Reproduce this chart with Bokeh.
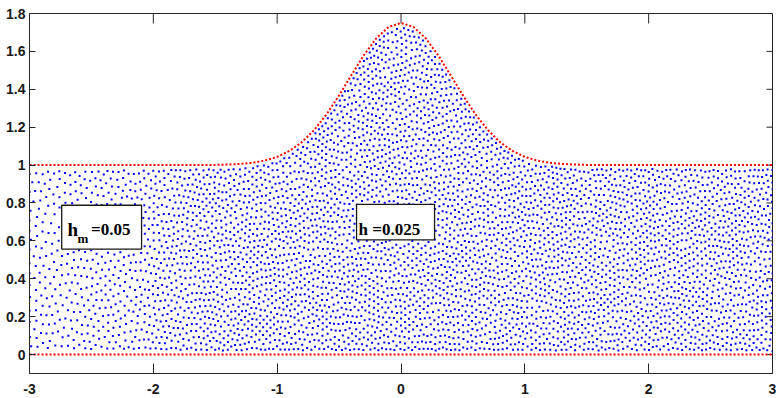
import numpy as np
from bokeh.plotting import figure
from bokeh.models import FixedTicker, Label
from bokeh.embed import file_html
from bokeh.resources import INLINE

# ---------------- data ----------------
# top boundary profile (bump)
top_x = [-3.0, -1.5, -1.4, -1.3, -1.2, -1.1, -1.0, -0.9, -0.8, -0.7, -0.6, -0.5, -0.4, -0.3, -0.2, -0.1,
         0.0, 0.1, 0.2, 0.3, 0.4, 0.5, 0.6, 0.7, 0.8, 0.9, 1.0, 1.1, 1.2, 1.3, 1.4, 1.5, 3.0]
top_y = [1.0, 1.001, 1.003, 1.006, 1.012, 1.024, 1.043, 1.075, 1.121, 1.186, 1.269, 1.368, 1.475, 1.580, 1.669, 1.729,
         1.750, 1.729, 1.669, 1.580, 1.475, 1.368, 1.269, 1.186, 1.121, 1.075, 1.043, 1.024, 1.012, 1.006, 1.003, 1.001, 1.0]
# bottom boundary
bot_x = [-3.0, 3.0]
bot_y = [0.0, 0.0]
# local node spacing of the mesh (estimated from dot density)
h_x = [-3.0, -2.5, -2.0, -1.5, -1.0, 3.0]
h_val = [0.054, 0.047, 0.041, 0.038, 0.036, 0.036]
boundary_spacing = 0.033
# tick labels
xticks = [-3, -2, -1, 0, 1, 2, 3]
xtick_labels = ["-3", "-2", "-1", "0", "1", "2", "3"]
yticks = [0, 0.2, 0.4, 0.6, 0.8, 1, 1.2, 1.4, 1.6, 1.8]
ytick_labels = ["0", "0.2", "0.4", "0.6", "0.8", "1", "1.2", "1.4", "1.6", "1.8"]
label_left = ("h", "m", "=0.05")
label_mid = "h =0.025"

X_LO, X_HI, Y_LO, Y_HI = -3.0, 3.0, -0.1, 1.8


# ---------------- mesh nodes ----------------
def top_of(x):
    return np.interp(x, top_x, top_y)


def hloc(x):
    return np.interp(x, h_x, h_val)


def boundary_nodes():
    xs = np.arange(X_LO, X_HI + 1e-9, boundary_spacing)
    bx = list(xs); by = [0.0] * len(xs)
    fx = np.linspace(X_LO, X_HI, 12001)
    fy = top_of(fx)
    arc = np.concatenate([[0], np.cumsum(np.hypot(np.diff(fx), np.diff(fy)))])
    s = np.arange(0, arc[-1] + 1e-9, boundary_spacing)
    bx += list(np.interp(s, arc, fx)); by += list(np.interp(s, arc, fy))
    return np.array(bx), np.array(by)


def scramble(n):
    k = np.arange(n, dtype=np.uint64)
    m32 = np.uint64(0xFFFFFFFF)
    k = (k * np.uint64(2654435761)) & m32
    k ^= k >> np.uint64(15)
    k = (k * np.uint64(2246822519)) & m32
    k ^= k >> np.uint64(13)
    k = (k * np.uint64(3266489917)) & m32
    k ^= k >> np.uint64(16)
    return np.argsort(k, kind="stable")


def initial_nodes():
    c = 0.007
    dy = c * 0.8660254
    rows = []
    for j in range(int(1.8 / dy) + 2):
        off = (j % 2) * c / 2
        xr = np.arange(X_LO + off, X_HI + 1e-9, c)
        rows.append(np.column_stack([xr, np.full_like(xr, j * dy)]))
    P = np.vstack(rows)
    X, Y = P[:, 0], P[:, 1]
    H = hloc(X)
    keep = (Y >= 0.45 * H) & (Y <= top_of(X) - 0.45 * H)
    X, Y, H = X[keep], Y[keep], H[keep]
    order = scramble(len(X))
    X, Y, H = X[order], Y[order], H[order]
    D = 0.78 * H
    g = 0.05
    grid = {}
    ox, oy = [], []
    for x, y, d in zip(X.tolist(), Y.tolist(), D.tolist()):
        i = int((x + 3.0) / g); k = int(y / g)
        d2 = d * d
        ok = True
        for a in (i - 1, i, i + 1):
            for b in (k - 1, k, k + 1):
                for (qx, qy) in grid.get((a, b), ()):
                    if (qx - x) ** 2 + (qy - y) ** 2 < d2:
                        ok = False
                        break
                if not ok:
                    break
            if not ok:
                break
        if ok:
            grid.setdefault((i, k), []).append((x, y))
            ox.append(x); oy.append(y)
    return np.array(ox), np.array(oy)


def relax(X, Y, fixed, iters=10, dt=0.1, fac=1.12):
    rmax = fac * max(h_val)
    n = len(X)
    for _ in range(iters):
        H = hloc(X) * np.where(fixed, 0.8, 1.0)
        order = np.argsort(X, kind="stable")
        Xs, Ys, Hs = X[order], Y[order], H[order]
        FXs = np.zeros(n); FYs = np.zeros(n)
        for s in range(0, n, 256):
            e = min(n, s + 256)
            lo = np.searchsorted(Xs, Xs[s] - rmax, "left")
            hi = np.searchsorted(Xs, Xs[e - 1] + rmax, "right")
            dx = Xs[s:e, None] - Xs[None, lo:hi]
            dyy = Ys[s:e, None] - Ys[None, lo:hi]
            d = np.sqrt(dx * dx + dyy * dyy)
            r0 = 0.5 * fac * (Hs[s:e, None] + Hs[None, lo:hi])
            m = (d < r0) & (d > 1e-12)
            w = np.where(m, (r0 - d) / np.where(m, d, 1.0), 0.0)
            FXs[s:e] = (w * dx).sum(1)
            FYs[s:e] = (w * dyy).sum(1)
        FX = np.empty(n); FY = np.empty(n)
        FX[order] = FXs; FY[order] = FYs
        hh0 = hloc(X)
        mx = dt * FX; my = dt * FY
        lim = 0.25 * hh0
        mag = np.hypot(mx, my)
        sc = np.where(mag > lim, lim / np.maximum(mag, 1e-12), 1.0)
        mv = ~fixed
        X = X.copy(); Y = Y.copy()
        X[mv] += (mx * sc)[mv]
        Y[mv] += (my * sc)[mv]
        X[mv] = np.clip(X[mv], X_LO, X_HI)
        hh = hloc(X[mv])
        Y[mv] = np.clip(Y[mv], 0.25 * hh, top_of(X[mv]) - 0.25 * hh)
    return X, Y


bx, by = boundary_nodes()
ix, iy = initial_nodes()
allx = np.concatenate([bx, ix]); ally = np.concatenate([by, iy])
fixed = np.concatenate([np.ones(len(bx), bool), np.zeros(len(ix), bool)])
allx, ally = relax(allx, ally, fixed)
node_x = allx[~fixed].tolist()
node_y = ally[~fixed].tolist()

# ---------------- figure ----------------
p = figure(width=776, height=398, x_range=(X_LO, X_HI), y_range=(Y_LO, Y_HI),
           output_backend="svg", toolbar_location=None,
           min_border_left=29, min_border_right=4, min_border_top=13, min_border_bottom=25,
           background_fill_color="white", border_fill_color="white")
p.grid.visible = False
axcol = "#262626"
p.outline_line_color = axcol
tick_font = "Liberation Sans"

xa = p.xaxis[0]
xa.ticker = FixedTicker(ticks=xticks)
xa.major_label_overrides = {t: s for t, s in zip(xticks, xtick_labels)}
ya = p.yaxis[0]
ya.ticker = FixedTicker(ticks=yticks)
ya.major_label_overrides = {t: s for t, s in zip(yticks, ytick_labels)}

XT_IN, YT_IN = 10, 6
for ax, tin, st in ((xa, XT_IN, 10), (ya, YT_IN, 4)):
    ax.major_tick_in = tin
    ax.major_tick_out = 0
    ax.minor_tick_in = 0
    ax.minor_tick_out = 0
    ax.major_label_standoff = st
    ax.axis_line_color = axcol
    ax.major_tick_line_color = axcol
    ax.major_label_text_font = tick_font
    ax.major_label_text_font_style = "bold"
    ax.major_label_text_font_size = "14px"
    ax.major_label_text_color = "#1a1a1a"

# box ticks on the top and right edges (mirrors of the axis ticks)
frame_w, frame_h = 743.0, 360.0
tick_dy = XT_IN * (Y_HI - Y_LO) / frame_h
tick_dx = YT_IN * (X_HI - X_LO) / frame_w
p.segment(x0=xticks, y0=[Y_HI] * len(xticks), x1=xticks, y1=[Y_HI - tick_dy] * len(xticks),
          line_color=axcol, line_width=1)
p.segment(x0=[X_HI] * len(yticks), y0=yticks, x1=[X_HI - tick_dx] * len(yticks), y1=yticks,
          line_color=axcol, line_width=1)

# mesh nodes
p.scatter(node_x, node_y, marker="square", size=2, fill_color="#0000ff", line_color=None)

# boundary nodes (dotted red)
p.line(top_x, top_y, line_color="#ff0000", line_width=2, line_dash="2 2")
p.line(bot_x, bot_y, line_color="#ff0000", line_width=2, line_dash="2 2")

# text boxes
p.quad(left=[-2.740], right=[-2.095], bottom=[0.556], top=[0.788],
       fill_color="white", line_color="#1a1a1a", line_width=1.3)
p.quad(left=[-0.359], right=[0.271], bottom=[0.605], top=[0.793],
       fill_color="white", line_color="#1a1a1a", line_width=1.3)

lab_font = "Liberation Sans Narrow"
p.add_layout(Label(x=-2.693, y=0.658, text=label_left[0], text_font=lab_font, text_font_style="bold",
                   text_font_size="19px", text_baseline="alphabetic", text_color="black"))
p.add_layout(Label(x=-2.612, y=0.611, text=label_left[1], text_font=lab_font, text_font_style="bold",
                   text_font_size="13px", text_baseline="alphabetic", text_color="black"))
p.add_layout(Label(x=-2.503, y=0.658, text=label_left[2], text_font=lab_font, text_font_style="bold",
                   text_font_size="17px", text_baseline="alphabetic", text_color="black"))
p.add_layout(Label(x=-0.343, y=0.662, text=label_mid, text_font=lab_font, text_font_style="bold",
                   text_font_size="17px", text_baseline="alphabetic", text_color="black"))

open("out.html", "w").write(file_html(p, INLINE))
